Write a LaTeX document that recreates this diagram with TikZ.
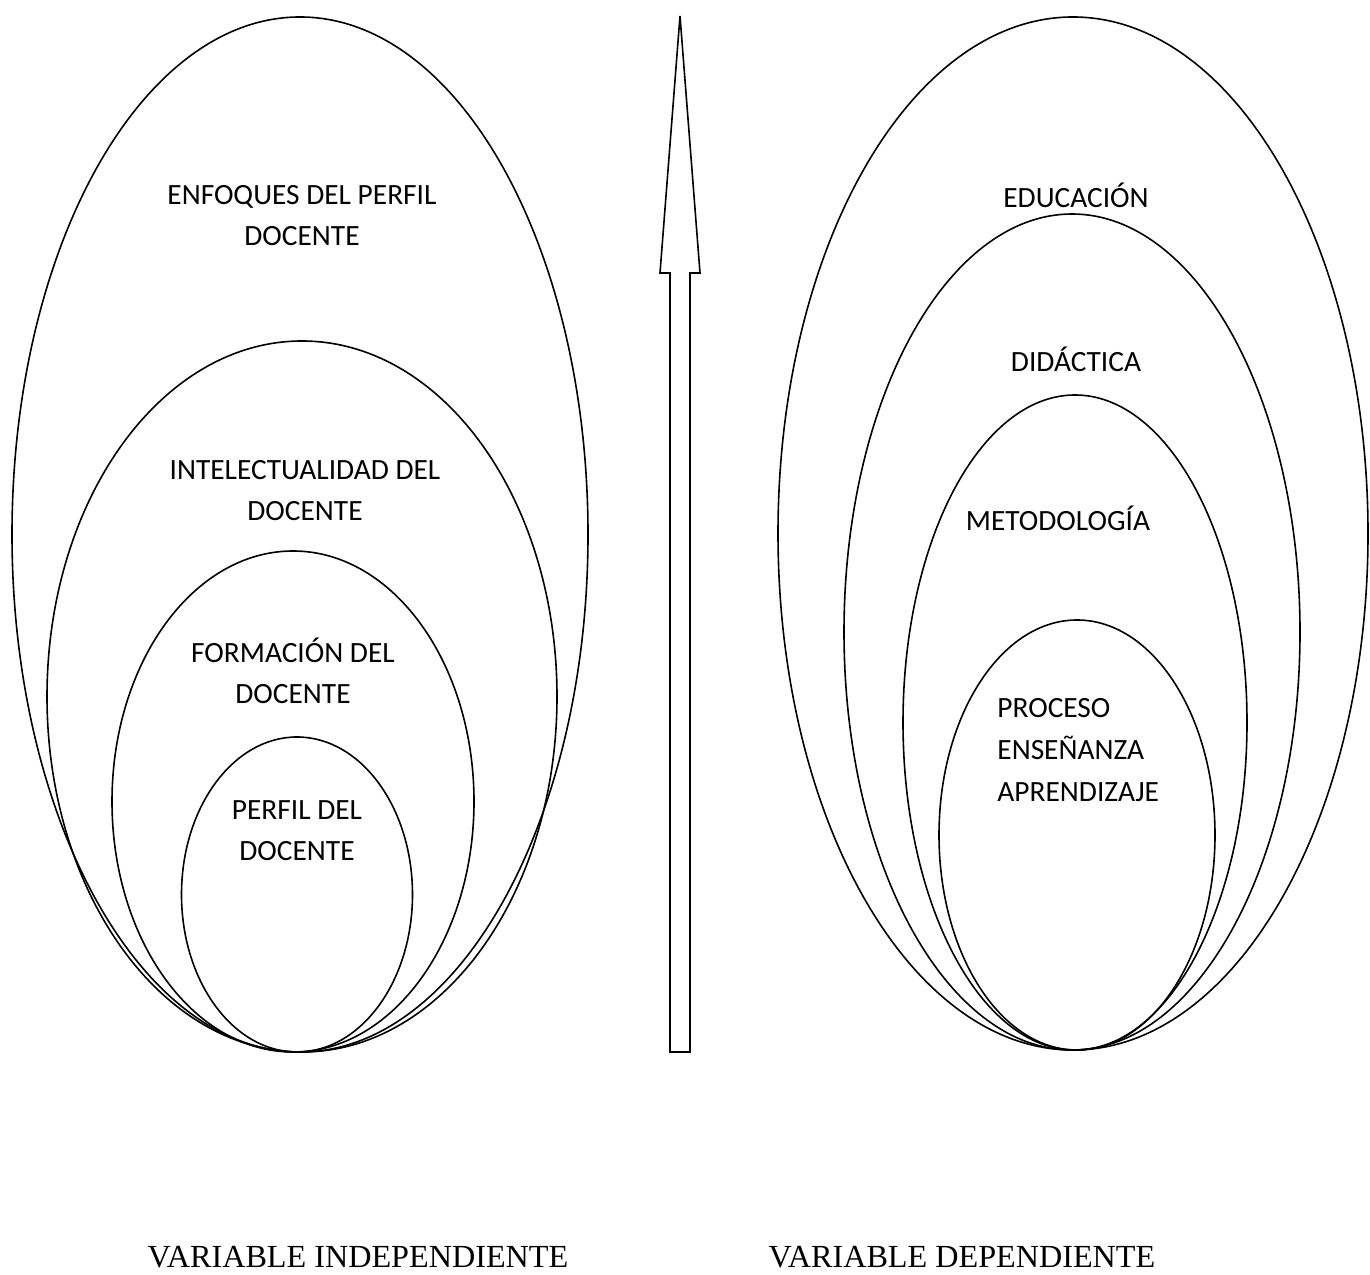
\documentclass[tikz,border=0pt]{standalone}
\usepackage{fontspec}
\setmainfont{Carlito}
\newfontfamily\timesfont{Liberation Serif}
\usepackage{tikz}
\usetikzlibrary{positioning}
\tikzset{
  capa/.style={line width=0.8pt},
  lbl/.style={align=center,inner sep=0pt,font=\fontsize{14.7pt}{20.5pt}\selectfont},
  varlbl/.style={inner sep=0pt,anchor=base,font=\timesfont\fontsize{16.1pt}{18pt}\selectfont}
}
\begin{document}
\begin{tikzpicture}[x=0.5pt,y=0.5pt]
  \useasboundingbox(0,0)rectangle(1370,1274);
  \draw[capa](300,739.5)ellipse[x radius=288,y radius=517.5];
  \draw[capa](302,577.5)ellipse[x radius=255,y radius=355.5];
  \draw[capa](293,472.5)ellipse[x radius=181,y radius=250.5];
  \draw[capa](297,379.5)ellipse[x radius=115.5,y radius=157.5];
  \draw[capa](1073,740.5)ellipse[x radius=295,y radius=516.5];
  \draw[capa](1072,642)ellipse[x radius=228,y radius=418];
  \draw[capa](1075,551.5)ellipse[x radius=172,y radius=327.5];
  \draw[capa](1077,439)ellipse[x radius=138,y radius=215];
  \draw[capa,line join=miter](670,222)--(670,1001)--(660,1001)--(680,1258)
    --(700,1001)--(690,1001)--(690,222)--cycle;
  \node[lbl](enfoques)at(302,1058.5){ENFOQUES DEL PERFIL\\DOCENTE};
  \node[lbl](intelec)at(305,783){INTELECTUALIDAD DEL\\DOCENTE};
  \node[lbl](formacion)at(293,603){FORMACIÓN DEL\\DOCENTE};
  \node[lbl](perfil)at(297,443.5){PERFIL DEL\\DOCENTE};
  \node[lbl](educacion)at(1076,1079){EDUCACIÓN};
  \node[lbl](didactica)at(1076,915){DIDÁCTICA};
  \node[lbl](metodo)at(1058,756){METODOLOGÍA};
  \node[lbl,align=left,anchor=west,
    font=\fontsize{14.7pt}{21pt}\selectfont](proceso)at(997,524){PROCESO\\ENSEÑANZA\\APRENDIZAJE};
  \node[varlbl](varind)at(358,7){VARIABLE INDEPENDIENTE};
  \node[varlbl](vardep)at(962,7){VARIABLE DEPENDIENTE};
\end{tikzpicture}
\end{document}
